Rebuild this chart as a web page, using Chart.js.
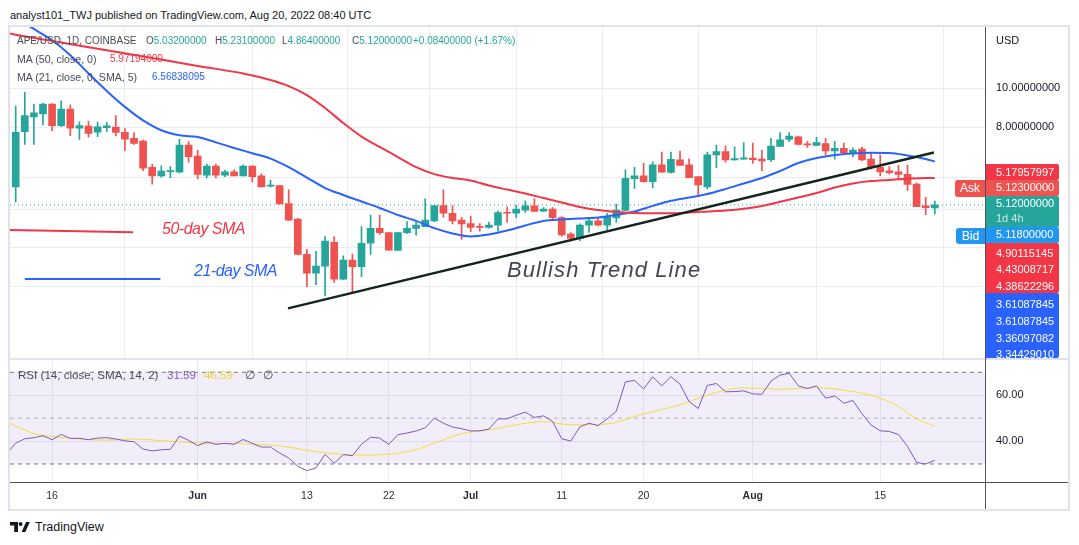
<!DOCTYPE html>
<html lang="en">
<head>
<meta charset="UTF-8">
<title>APE/USD 1D - TradingView</title>
<script src="https://cdn.jsdelivr.net/npm/chart.js@4"></script>
<style>
  body { margin: 0; background: #fff; font-family: 'Liberation Sans', Arial, sans-serif; color: #131722; }
  .page { position: relative; width: 1079px; height: 545px; overflow: hidden; }
  .frame { position: absolute; left: 8px; top: 25px; width: 1062px; height: 486px; box-sizing: border-box; border: 2px solid #e0e3eb; }
  canvas { position: absolute; left: 10px; }
  #main { top: 27px; }
  #rsi { top: 359px; }
  .t { position: absolute; white-space: nowrap; line-height: 14px; }
  .lg { position: absolute; white-space: nowrap; line-height: 14px; font-size: 10px; color: #4a4d57; }
  .lg2 { font-size: 10.6px; }
  .lg3 { font-size: 11.6px; }
  .up { color: #26a69a; }
  .box { position: absolute; left: 986px; width: 73px; color: #fff; font-size: 11px; box-sizing: border-box; padding-left: 10px; border-radius: 0 2px 2px 0; overflow: hidden; white-space: nowrap; }
  .note { position: absolute; white-space: nowrap; font-style: italic; }
  .line { position: absolute; }
</style>
</head>
<body>
<div class="page">
  <div class="t" style="left:10px;top:8px;font-size:11px;">analyst101_TWJ published on TradingView.com, Aug 20, 2022 08:40 UTC</div>
  <div class="frame"></div>
  <canvas id="main" width="1058" height="332"></canvas>
  <canvas id="rsi" width="1058" height="150"></canvas>

  <div class="line" style="left:10px;top:358px;width:1058px;height:2px;background:#e0e3eb;"></div>
  <div class="line" style="left:985px;top:27px;width:1px;height:482px;background:#50535e;"></div>
  <div class="line" style="left:10px;top:482px;width:1058px;height:1px;background:#50535e;"></div>

  <!-- legend -->
  <div class="lg" style="left:17px;top:34px;">APE/USD, 1D, COINBASE</div>
  <div class="lg" style="left:146px;top:34px;">O<span class="up">5.03200000</span></div>
  <div class="lg" style="left:215px;top:34px;">H<span class="up">5.23100000</span></div>
  <div class="lg" style="left:282px;top:34px;">L<span class="up">4.86400000</span></div>
  <div class="lg" style="left:352px;top:34px;">C<span class="up">5.12000000</span></div>
  <div class="lg up" style="left:413px;top:34px;">+0.08400000 (+1.67%)</div>
  <div class="lg lg2" style="left:17px;top:52px;">MA (50, close, 0)</div>
  <div class="lg" style="left:110px;top:52px;color:#f23645;">5.97194000</div>
  <div class="lg lg2" style="left:17px;top:70px;">MA (21, close, 0, SMA, 5)</div>
  <div class="lg" style="left:152px;top:70px;color:#2962ff;">6.56838095</div>

  <div class="lg lg3" style="left:18px;top:368px;">RSI (14, close, SMA, 14, 2)</div>
  <div class="lg lg3" style="left:167px;top:368px;color:#7e57c2;">31.59</div>
  <div class="lg lg3" style="left:204px;top:368px;color:#f0d43a;">46.59</div>
  <div class="lg lg3" style="left:245px;top:368px;">&#8709;</div>
  <div class="lg lg3" style="left:263px;top:368px;">&#8709;</div>

  <!-- drawing notes -->
  <div class="note" style="left:162px;top:219px;font-size:16px;line-height:20px;letter-spacing:-0.5px;color:#f23645;">50-day SMA</div>
  <div class="note" style="left:194px;top:261px;font-size:16px;line-height:20px;letter-spacing:-0.5px;color:#2962ff;">21-day SMA</div>
  <div class="note" style="left:507px;top:256px;font-size:22px;line-height:28px;letter-spacing:1.1px;color:#434651;">Bullish Trend Line</div>

  <!-- price scale -->
  <div class="t" style="left:996px;top:33px;font-size:11px;">USD</div>
  <div class="box" style="top:163.5px;height:16.5px;line-height:16.5px;background:#f23645;">5.17957997</div>
  <div class="box" style="top:180px;height:15.7px;line-height:15.7px;background:#ef5350;">5.12300000</div>
  <div class="box" style="top:195.7px;height:31.6px;line-height:15.8px;background:#26a69a;">5.12000000<br><span style="color:rgba(255,255,255,0.75)">1d 4h</span></div>
  <div class="box" style="top:227.3px;height:15.4px;line-height:15.4px;background:#2196f3;">5.11800000</div>
  <div class="box" style="top:242.7px;height:50.6px;line-height:16.6px;padding-top:2px;background:#f23645;">4.90115145<br>4.43008717<br>4.38622296</div>
  <div class="box" style="top:293.3px;height:65.2px;line-height:16.7px;padding-top:3px;background:#2962ff;">3.61087845<br>3.61087845<br>3.36097082<br>3.34429010</div>
  <div class="t" style="left:955px;top:180px;width:30px;height:16.5px;line-height:16.5px;text-align:center;font-size:12px;color:#fff;background:#ef5350;border-radius:3px 0 0 3px;">Ask</div>
  <div class="t" style="left:956px;top:228px;width:29px;height:16px;line-height:16px;text-align:center;font-size:12px;color:#fff;background:#2196f3;border-radius:3px 0 0 3px;">Bid</div>

  <!-- watermark -->
  <svg style="position:absolute;left:10px;top:522px;" width="20" height="10" viewBox="0 0 20 10">
    <path d="M0 0H8V10H4.2V3.6H0Z" fill="#131722"/>
    <circle cx="10.6" cy="2" r="1.9" fill="#131722"/>
    <path d="M11.6 10L16 0H19.8L15.4 10Z" fill="#131722"/>
  </svg>
  <div class="t" style="left:35px;top:520px;font-size:12.5px;">TradingView</div>
</div>

<script>
// day index 0 = May 12, 2022
const tickDays = [4, 20, 32, 41, 50, 60, 69, 81, 95];
const tickLabels = ['16', 'Jun', '13', '22', 'Jul', '11', '20', 'Aug', '15'];

const open = [5.68,7.80,8.49,8.63,9.14,8.07,8.88,7.95,8.05,7.77,
  7.98,8.00,7.77,7.50,7.39,6.35,6.05,6.20,6.18,7.22,
  6.78,6.07,6.40,6.07,6.19,6.05,6.40,6.05,5.70,5.72,
  5.16,4.72,3.855,3.458,3.60,4.13,3.34,3.73,3.59,4.107,
  4.475,4.37,3.94,4.365,4.475,4.52,4.67,5.10,4.88,4.69,
  4.60,4.52,4.50,4.56,4.90,4.88,4.97,5.09,4.94,5.00,
  4.76,4.33,4.225,4.56,4.67,4.56,4.75,4.96,5.95,6.05,
  5.85,6.44,6.17,6.63,6.44,6.02,5.68,6.82,6.95,6.63,
  6.66,6.70,6.66,6.64,7.16,7.46,7.57,7.27,7.20,7.28,
  6.98,7.08,6.91,7.05,6.66,6.35,6.23,6.19,6.10,5.77,
  5.09,5.032];
const high = [9.03,9.77,9.14,9.18,9.16,9.30,9.09,8.25,8.29,8.22,
  8.22,8.55,7.93,7.75,7.43,6.47,6.41,6.38,7.46,7.36,
  7.00,6.47,6.47,6.24,6.26,6.44,6.41,6.12,5.90,5.72,
  5.58,4.74,3.965,3.92,4.265,4.27,3.82,3.86,4.52,4.83,
  4.83,4.37,4.38,4.65,4.65,5.30,5.10,5.58,5.10,4.77,
  4.80,4.60,4.64,4.94,5.06,5.11,5.24,5.30,5.04,5.04,
  4.79,4.37,4.59,4.74,4.74,4.88,5.14,6.26,6.35,6.50,
  6.56,6.93,6.93,6.97,6.67,6.02,6.93,7.22,7.19,7.15,
  7.32,7.30,7.01,7.50,7.75,7.75,7.60,7.37,7.55,7.50,
  7.37,7.30,7.10,7.14,6.88,6.82,6.38,6.43,6.43,5.81,
  5.35,5.231];
const low = [5.20,7.25,7.25,8.10,7.84,8.02,7.62,7.46,7.55,7.58,
  7.80,7.61,6.99,7.25,6.23,5.77,6.00,5.98,6.15,6.54,
  5.94,5.98,5.98,6.02,6.05,6.05,5.84,5.68,5.67,5.14,
  4.68,3.84,3.20,3.24,3.04,3.28,3.33,3.11,3.39,3.85,
  4.32,3.95,3.94,4.34,4.30,4.52,4.65,4.77,4.59,4.20,
  4.39,4.40,4.48,4.40,4.63,4.76,4.90,4.93,4.93,4.72,
  4.27,4.16,4.17,4.37,4.54,4.44,4.63,4.96,5.63,5.83,
  5.64,6.18,6.14,6.42,5.99,5.42,5.61,6.34,6.54,6.62,
  6.65,6.50,6.23,6.56,7.16,7.36,7.21,7.12,7.20,6.82,
  6.66,6.82,6.75,6.60,6.29,6.05,6.11,5.94,5.56,5.07,
  4.84,4.864];
const close = [7.77,8.55,8.69,9.14,8.07,8.88,7.95,8.07,7.72,8.02,
  8.06,7.76,7.47,7.29,6.32,6.05,6.22,6.22,7.22,6.75,
  6.10,6.40,6.07,6.19,6.05,6.40,6.02,5.68,5.72,5.15,
  4.69,3.855,3.458,3.605,4.16,3.34,3.73,3.59,4.107,4.475,
  4.365,3.95,4.37,4.475,4.56,4.69,5.096,4.88,4.67,4.59,
  4.50,4.50,4.56,4.90,4.88,5.00,5.09,4.93,5.00,4.76,
  4.31,4.225,4.56,4.67,4.56,4.77,4.97,5.96,6.05,5.85,
  6.44,6.18,6.65,6.42,5.99,5.74,6.82,6.95,6.63,6.68,
  6.71,6.64,6.59,7.18,7.44,7.60,7.25,7.22,7.32,6.98,
  7.08,6.91,7.01,6.63,6.34,6.19,6.16,6.10,5.76,5.07,
  5.036,5.12];
const lastPrice = 5.12;

// [day, value]
const ma50 = [[-1,13.75],[0,13.60],[5,13.01],[10,12.44],[15,11.90],[20,11.37],[25,10.89],[28,10.49],
  [30,10.13],[32,9.62],[34,8.93],[36,8.19],[38,7.58],[40,7.14],[42,6.74],[44,6.36],[46,6.11],[48,5.975],
  [50,5.89],[52,5.72],[54,5.59],[56,5.465],[58,5.325],[60,5.19],[62,5.06],[64,4.97],[66,4.915],[68,4.89],
  [70,4.88],[72,4.88],[74,4.90],[76,4.93],[78,4.96],[80,5.01],[82,5.09],[84,5.21],[86,5.34],[88,5.48],
  [90,5.655],[92,5.79],[94,5.87],[96,5.91],[98,5.95],[100,5.975],[101,5.972]];
const ma21 = [[-1,15.46],[1,14.51],[2,14.06],[4,13.18],[6,12.09],[8,10.89],[10,9.85],[12,8.99],[14,8.32],
  [16,7.86],[18,7.635],[20,7.56],[22,7.33],[24,7.10],[26,6.89],[28,6.68],[30,6.36],[32,5.99],[34,5.64],
  [36,5.42],[38,5.22],[40,5.03],[42,4.83],[44,4.67],[46,4.48],[48,4.345],[50,4.27],[52,4.32],[54,4.42],
  [56,4.55],[58,4.67],[60,4.71],[62,4.735],[64,4.76],[66,4.83],[68,4.93],[70,5.09],[72,5.24],[74,5.34],
  [76,5.45],[78,5.61],[80,5.79],[82,5.975],[84,6.22],[86,6.51],[88,6.70],[90,6.82],[92,6.88],[94,6.91],
  [96,6.90],[98,6.80],[100,6.665],[101,6.568]];

// drawings
const trendLine = [[29.92, 2.826], [100.9, 6.92]];
const key50 = [[-0.63, 4.43], [12.9, 4.375]];
const key21 = [[1.0, 3.345], [15.9, 3.345]];

// price axis grid levels
const priceTicks = [3.2, 4, 5, 6, 8, 10];
const priceLabelTicks = [8, 10];

// RSI (first value is day -1)
const rsiFirstDay = -1;
const rsi = [34.5,
  39.1,41.0,41.5,42.3,40.6,42.9,41.2,41.2,40.6,41.3,
  41.5,40.9,40.1,39.7,36.5,35.7,36.2,36.4,42.2,40.3,
  38.0,39.6,38.6,39.0,38.6,40.7,39.0,37.4,37.4,34.8,
  32.6,29.0,27.1,28.3,34.2,30.3,34.1,33.6,38.6,41.7,
  41.3,38.6,42.8,43.5,44.4,45.8,50.0,47.8,46.1,45.4,
  44.4,44.5,45.2,49.7,49.7,51.3,52.6,50.3,51.0,48.6,
  41.0,40.0,46.2,47.8,46.7,49.7,53.0,65.8,66.5,62.8,
  68.0,64.1,68.1,64.8,57.2,54.2,64.3,65.1,61.5,61.6,
  61.9,60.6,60.4,66.2,68.8,69.6,64.1,62.9,64.1,58.7,
  59.7,56.5,57.7,51.9,47.0,44.5,44.2,42.9,37.7,30.7,
  30.0,31.59];
const rsiMa = [[-1,48.3],[1,44.9],[2,43.2],[4,42.0],[6,41.2],[10,40.4],[13,40.9],[17,39.9],[21,39.1],
  [25,38.8],[28,38.3],[30,37.4],[32,35.9],[36,34.2],[38,33.9],[41,34.3],[44,36.2],[46,39.1],[49,43.2],
  [52,44.9],[55,47.1],[58,48.5],[61,47.1],[65,47.5],[69,51.9],[73,55.8],[76,60.1],[80,63.2],[84,62.6],
  [88,63.3],[91,62.2],[93,60.9],[95,58.7],[97,55.1],[99,49.6],[101,46.59]];
const rsiLevels = [70, 50, 30];
const rsiTicks = [40, 60];

Chart.defaults.font.family = "'Liberation Sans', Arial, sans-serif";
Chart.defaults.color = '#131722';

const gridColor = '#e9edf3';
const upColor = '#26a69a';
const downColor = '#ef5350';
const xMin = -0.626, xMax = 106.57;
const axisWidth = 82.5;

const pts = arr => arr.map(([x, y]) => ({ x, y }));
const flat = v => [{ x: xMin, y: v }, { x: xMax, y: v }];
const candleColor = close.map((c, i) => c >= open[i] ? upColor : downColor);
const noPad = s => { s.paddingTop = 0; s.paddingBottom = 0; s.paddingLeft = 0; s.paddingRight = 0; };

const xDays = {
  type: 'linear', min: xMin, max: xMax, offset: false,
  grid: { color: gridColor, drawTicks: false },
  border: { display: false },
  afterBuildTicks: s => { s.ticks = tickDays.map(v => ({ value: v })); }
};

new Chart(document.getElementById('main'), {
  type: 'bar',
  data: {
    datasets: [
      { type: 'line', data: pts(trendLine), borderColor: '#12261b', borderWidth: 2.5, pointRadius: 0, order: 0 },
      { type: 'line', data: pts(ma50), borderColor: '#f23645', borderWidth: 2, pointRadius: 0, cubicInterpolationMode: 'monotone', order: 1 },
      { type: 'line', data: pts(ma21), borderColor: '#2962ff', borderWidth: 2, pointRadius: 0, cubicInterpolationMode: 'monotone', order: 1 },
      { type: 'line', data: pts(key50), borderColor: '#f23645', borderWidth: 2, pointRadius: 0, order: 1 },
      { type: 'line', data: pts(key21), borderColor: '#2962ff', borderWidth: 2, pointRadius: 0, order: 1 },
      { data: open.map((o, i) => ({ x: i, y: [o, close[i]] })), backgroundColor: candleColor,
        barThickness: 7, minBarLength: 1, grouped: false, order: 3 },
      { data: low.map((l, i) => ({ x: i, y: [l, high[i]] })), backgroundColor: candleColor,
        barThickness: 1, grouped: false, order: 4 },
      { type: 'line', data: flat(lastPrice), borderColor: upColor, borderWidth: 1, borderDash: [1, 3], pointRadius: 0, order: 5 }
    ]
  },
  options: {
    responsive: false, animation: false, events: [],
    layout: { padding: 0, autoPadding: false },
    plugins: { legend: { display: false }, tooltip: { enabled: false } },
    scales: {
      x: Object.assign({}, xDays, { ticks: { display: false }, afterFit: s => { s.height = 0; noPad(s); } }),
      y: {
        type: 'logarithmic', position: 'right', min: 2.113, max: 14.22,
        grid: { color: gridColor, drawTicks: false },
        border: { display: false },
        ticks: { padding: 10.5, font: { size: 11 }, color: '#131722',
          callback: v => priceLabelTicks.includes(v) ? v.toFixed(8) : '' },
        afterBuildTicks: s => { s.ticks = priceTicks.map(v => ({ value: v })); },
        afterFit: s => { s.width = axisWidth; noPad(s); }
      }
    }
  }
});

new Chart(document.getElementById('rsi'), {
  type: 'line',
  data: {
    datasets: [
      { data: rsi.map((v, k) => ({ x: rsiFirstDay + k, y: v })), borderColor: '#7e57c2', borderWidth: 1, pointRadius: 0, order: 0 },
      { data: pts(rsiMa), borderColor: '#f5dc3c', borderWidth: 1, pointRadius: 0, cubicInterpolationMode: 'monotone', order: 1 },
      { data: flat(rsiLevels[0]), borderColor: '#787b86', borderWidth: 1, borderDash: [4, 4], pointRadius: 0,
        fill: '+1', backgroundColor: 'rgba(126,87,194,0.1)', order: 3 },
      { data: flat(rsiLevels[2]), borderColor: '#787b86', borderWidth: 1, borderDash: [4, 4], pointRadius: 0, order: 3 },
      { data: flat(rsiLevels[1]), borderColor: 'rgba(120,123,134,0.5)', borderWidth: 1, borderDash: [4, 4], pointRadius: 0, order: 2 }
    ]
  },
  options: {
    responsive: false, animation: false, events: [],
    layout: { padding: 0, autoPadding: false },
    plugins: { legend: { display: false }, tooltip: { enabled: false } },
    scales: {
      x: Object.assign({}, xDays, {
        ticks: { padding: 7, maxRotation: 0, autoSkip: false, color: '#2a2e39',
          font: c => ({ size: 10.5, weight: /^[A-Z]/.test(tickLabels[tickDays.indexOf(c.tick && c.tick.value)] || '') ? 'bold' : 'normal' }),
          callback: v => tickLabels[tickDays.indexOf(v)] || '' },
        afterFit: s => { s.height = 26.3; noPad(s); }
      }),
      y: {
        type: 'linear', position: 'right', min: 21.84, max: 75.8,
        grid: { color: gridColor, drawTicks: false },
        border: { display: false },
        ticks: { padding: 10.5, font: { size: 11 }, color: '#131722', callback: v => v.toFixed(2) },
        afterBuildTicks: s => { s.ticks = rsiTicks.map(v => ({ value: v })); },
        afterFit: s => { s.width = axisWidth; noPad(s); }
      }
    }
  }
});
</script>
</body>
</html>
